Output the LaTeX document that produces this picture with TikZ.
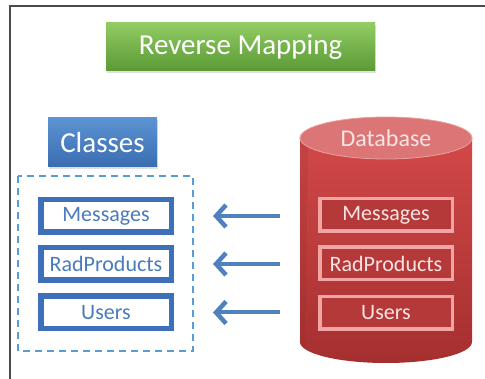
\documentclass[tikz,border=0pt]{standalone}
\usepackage{fontspec}
\setmainfont{Carlito}
\usetikzlibrary{arrows.meta,shadows}
\definecolor{gtop}{HTML}{92CB64}
\definecolor{gbot}{HTML}{5A9A34}
\definecolor{btop}{HTML}{5B93D3}
\definecolor{bbot}{HTML}{3A6DB0}
\definecolor{bline}{HTML}{3D70B6}
\definecolor{btext}{HTML}{4A7BBA}
\definecolor{dash}{HTML}{5B9BD5}
\definecolor{arrc}{HTML}{4F81BD}
\definecolor{rtop}{HTML}{D24848}
\definecolor{rbot}{HTML}{A52F2F}
\definecolor{rell}{HTML}{DC7676}
\definecolor{rellb}{HTML}{E9A0A0}
\definecolor{rbox}{HTML}{B53939}
\definecolor{rline}{HTML}{F2A5A5}
\definecolor{rtext}{HTML}{F8E4E4}
\tikzset{
  titlebox/.style={rectangle, top color=gtop, bottom color=gbot, draw=none,
    minimum width=269pt, minimum height=48pt, inner sep=0pt,
    text=white, font=\fontsize{29}{31}\selectfont,
    drop shadow={shadow xshift=1pt, shadow yshift=-2pt, opacity=0.25}},
  classhead/.style={rectangle, top color=btop, bottom color=bbot, draw=none,
    minimum width=109pt, minimum height=49pt, inner sep=0pt,
    text=white, font=\fontsize{29}{31}\selectfont,
    drop shadow={shadow xshift=1pt, shadow yshift=-2pt, opacity=0.25}},
  classbox/.style={rectangle, draw=bline, line width=5.5pt, fill=white,
    minimum width=130.5pt, minimum height=32.5pt, inner sep=0pt,
    text=btext, font=\fontsize{22}{24}\selectfont},
  dbbox/.style={rectangle, draw=rline, line width=3.5pt, fill=rbox,
    minimum width=132.5pt, minimum height=32.5pt, inner sep=0pt,
    text=rtext, font=\fontsize{22}{24}\selectfont},
  dashbox/.style={draw=dash, line width=1.2pt, dash pattern=on 7pt off 5pt},
  maparrow/.style={draw=arrc, line width=4pt,
    -{Straight Barb[length=10pt,width=22pt,line width=4.5pt]}},
  frameline/.style={draw=black!70, line width=1.2pt}
}
\begin{document}
\begin{tikzpicture}[x=1pt,y=-1pt]
\useasboundingbox (0,0) rectangle (485,379);
\fill[white] (0,0) rectangle (485,379);
% frame
\draw[frameline] (10,379) -- (10,6) -- (485,6);
% title
\node[titlebox] (title) at (240.5,47) {Reverse Mapping};
% classes header
\node[classhead] (classes) at (102.5,142.5) {Classes};
% dashed group
\draw[dashbox] (18,176) rectangle (193,351);
% class boxes
\node[classbox] (cm) at (106,216) {Messages};
\node[classbox] (cr) at (106,264) {RadProducts};
\node[classbox] (cu) at (106,312.5) {Users};
% cylinder
\shade[top color=rtop, bottom color=rbot]
  (300,138) -- (300,342)
  arc[start angle=180, end angle=360, x radius=86pt, y radius=21pt]
  -- (472,138) -- cycle;
\fill[rbot!80!black, opacity=0.15]
  (300,138) -- (300,342)
  arc[start angle=180, end angle=200, x radius=86pt, y radius=21pt]
  -- (308,138) -- cycle;
\draw[fill=rell, draw=rellb, line width=0.8pt] (386,138) ellipse [x radius=86pt, y radius=21pt];
\node[text=rtext, font=\fontsize{24}{26}\selectfont] (db) at (386,138) {Database};
% db boxes
\node[dbbox] (dm) at (386,215) {Messages};
\node[dbbox] (dr) at (386,263.5) {RadProducts};
\node[dbbox] (du) at (386,313) {Users};
% arrows
\draw[maparrow, shorten <=38pt, shorten >=39pt] (dm.west |- cm.east) -- (cm.east);
\draw[maparrow, shorten <=38pt, shorten >=39pt] (dr.west |- cr.east) -- (cr.east);
\draw[maparrow, shorten <=38pt, shorten >=39pt] (du.west |- cu.east) -- (cu.east);
\end{tikzpicture}
\end{document}
